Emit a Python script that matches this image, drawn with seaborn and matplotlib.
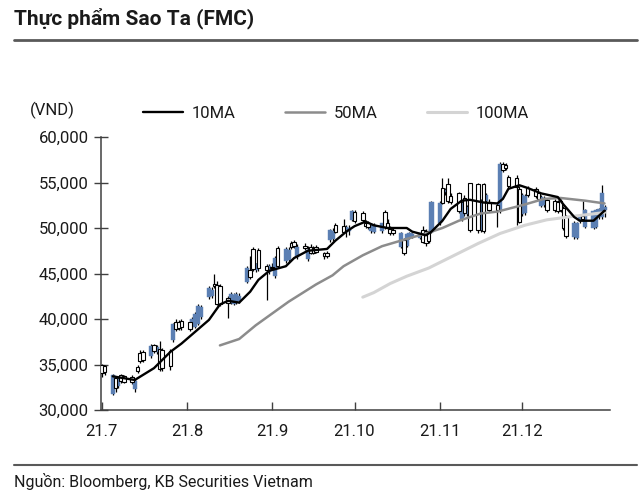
import numpy as np
import pandas as pd
import matplotlib
matplotlib.use("Agg")
import matplotlib.pyplot as plt
import matplotlib.dates as mdates
from matplotlib.lines import Line2D
from matplotlib.ticker import FuncFormatter
import seaborn as sns

# ---------------- data (prices in thousand VND) ----------------
trade_dates = pd.bdate_range("2021-07-01", "2021-12-31")

opens = [
    # Jul
    34.9, 34.8, 31.8, 33.5, 32.6, 33.8, 33.7, 33.6, 32.3, 34.7, 36.3, 36.4, 35.9, 37.1, 36.4, 36.7, 36.6, 36.5, 37.7, 39.7, 39.7, 39.8,
    # Aug
    39.7, 39.2, 39.1, 39.5, 40.2, 42.4, 42.5, 43.8, 43.7, 43.6, 42.3, 41.8, 41.7, 41.9, 42.0, 44.1, 45.4, 47.7, 45.4, 47.6, 45.8, 45.2,
    # Sep
    45.7, 44.7, 47.8, 46.4, 46.5, 48.4, 48.5, 46.8, 48.0, 46.6, 47.9, 47.8, 47.9, 47.2, 47.2, 48.7, 48.8, 50.3, 50.2, 49.6, 49.7, 50.9,
    # Oct
    51.8, 51.7, 50.6, 50.5, 49.7, 49.6, 49.7, 51.8, 50.6, 49.9, 49.8, 47.9, 48.7, 48.0, 48.9, 49.0, 48.9, 49.8, 49.7, 49.6, 49.6,
    # Nov
    50.5, 54.4, 54.0, 54.8, 53.5, 53.8, 51.0, 53.3, 51.5, 54.9, 54.8, 49.8, 54.8, 53.0, 52.8, 52.5, 51.9, 57.0, 56.9, 55.6, 55.5, 54.3,
    # Dec
    51.5, 51.6, 54.4, 54.3, 53.8, 52.4, 52.5, 53.1, 53.0, 52.9, 53.0, 52.2, 51.2, 49.0, 48.9, 50.8, 51.3, 50.1, 50.0, 50.1, 51.2, 51.2, 52.0,
]
highs = [
    35.1, 35.0, 34.0, 33.7, 33.6, 34.0, 33.9, 33.8, 33.4, 34.9, 36.6, 36.6, 37.2, 37.3, 37.1, 37.6, 36.8, 36.7, 39.6, 40.0, 39.9, 40.0,
    40.0, 40.2, 40.8, 41.6, 41.5, 43.6, 43.5, 44.9, 44.2, 43.8, 42.5, 43.0, 42.9, 43.0, 42.9, 45.8, 46.9, 47.9, 46.1, 47.8, 46.0, 46.0,
    46.2, 46.9, 48.0, 47.9, 47.9, 48.6, 48.7, 48.2, 48.4, 48.0, 48.2, 48.0, 48.1, 47.4, 47.5, 49.9, 50.0, 50.5, 51.0, 50.3, 50.3, 52.0,
    52.0, 51.9, 50.9, 50.8, 50.6, 50.5, 50.6, 52.0, 51.0, 50.2, 50.0, 49.6, 48.9, 49.5, 49.6, 49.5, 49.5, 50.2, 49.9, 49.9, 53.0,
    53.0, 55.5, 54.4, 55.5, 53.8, 54.0, 53.0, 53.6, 52.5, 55.0, 55.0, 53.2, 55.0, 53.8, 53.2, 52.8, 57.2, 57.2, 57.1, 55.8, 55.8, 54.6,
    53.8, 53.7, 54.6, 54.5, 54.0, 53.6, 53.5, 53.3, 53.2, 53.1, 53.2, 52.4, 51.4, 50.8, 50.7, 51.5, 53.0, 52.1, 52.0, 52.1, 52.2, 54.7, 52.5,
]
lows = [
    33.6, 33.8, 31.6, 32.0, 32.4, 33.0, 33.0, 32.9, 32.0, 34.1, 35.2, 35.3, 35.7, 36.3, 36.2, 34.3, 34.3, 34.4, 37.5, 38.7, 38.8, 38.8,
    38.7, 39.0, 39.0, 39.3, 40.0, 42.2, 42.3, 43.4, 41.5, 41.4, 40.1, 41.6, 41.5, 41.7, 41.8, 44.0, 44.4, 45.3, 45.2, 45.3, 42.1, 45.0,
    45.4, 44.5, 45.6, 46.2, 46.3, 47.7, 47.8, 46.6, 47.6, 46.4, 47.1, 47.1, 47.2, 46.6, 46.7, 48.5, 48.6, 49.4, 49.4, 49.0, 49.2, 50.8,
    50.6, 50.7, 50.0, 49.9, 49.5, 49.4, 49.5, 49.9, 49.9, 49.2, 49.2, 47.8, 47.0, 47.9, 48.8, 48.9, 48.8, 48.3, 48.0, 48.3, 49.4,
    50.3, 52.6, 53.6, 52.8, 52.6, 51.7, 50.8, 51.3, 51.3, 49.6, 49.5, 49.6, 49.5, 52.9, 51.8, 50.1, 51.7, 56.2, 56.4, 54.4, 50.3, 50.5,
    51.3, 51.4, 53.4, 53.3, 53.0, 52.3, 52.3, 51.8, 51.8, 51.7, 51.8, 49.8, 48.9, 48.8, 48.8, 50.6, 50.8, 50.0, 49.9, 50.0, 51.0, 51.0, 51.2,
]
closes = [
    34.1, 34.2, 33.8, 32.4, 33.4, 33.2, 33.1, 33.1, 33.2, 34.3, 35.4, 35.5, 37.0, 36.5, 36.9, 34.5, 34.6, 34.8, 39.4, 38.9, 39.0, 39.1,
    38.9, 40.0, 40.6, 41.4, 41.3, 43.4, 43.2, 43.6, 41.7, 41.6, 41.8, 42.8, 42.6, 42.7, 42.5, 45.6, 44.6, 45.5, 46.0, 45.6, 45.4, 45.8,
    45.6, 46.7, 45.8, 47.7, 47.6, 47.9, 48.0, 47.9, 47.8, 47.6, 47.3, 47.3, 47.4, 46.9, 46.9, 49.8, 49.7, 49.6, 49.6, 50.1, 50.0, 51.9,
    50.8, 50.9, 50.2, 50.1, 50.4, 50.3, 50.5, 50.1, 50.0, 49.4, 49.4, 49.4, 47.3, 49.3, 49.4, 49.3, 49.4, 48.5, 48.4, 48.6, 52.9,
    52.8, 52.8, 54.2, 53.0, 52.9, 51.9, 52.8, 51.6, 52.3, 49.8, 49.8, 53.0, 49.7, 53.6, 52.0, 52.0, 57.0, 56.4, 56.6, 54.6, 54.5, 50.7,
    53.6, 53.5, 53.6, 53.5, 53.2, 53.4, 53.3, 52.0, 52.0, 51.9, 52.0, 50.0, 49.1, 50.6, 50.5, 51.2, 51.0, 52.0, 51.9, 52.0, 52.1, 53.8, 52.3,
]

ma10_dates = ["2021-07-05", "2021-07-13", "2021-07-20", "2021-07-26", "2021-07-30", "2021-08-04", "2021-08-09",
              "2021-08-13", "2021-08-16", "2021-08-20", "2021-08-24", "2021-08-27", "2021-08-31", "2021-09-06",
              "2021-09-09", "2021-09-14", "2021-09-21", "2021-09-24", "2021-09-28", "2021-10-01", "2021-10-05",
              "2021-10-08", "2021-10-13", "2021-10-20", "2021-10-22", "2021-10-27", "2021-10-29", "2021-11-02",
              "2021-11-05", "2021-11-09", "2021-11-12", "2021-11-17", "2021-11-22", "2021-11-24", "2021-11-26",
              "2021-11-30", "2021-12-03", "2021-12-08", "2021-12-14", "2021-12-16", "2021-12-20", "2021-12-22",
              "2021-12-27", "2021-12-31"]
ma10_vals = [33.7, 33.3, 34.6, 36.4, 37.3, 38.6, 39.9, 41.6, 42.0, 41.8, 43.0, 44.3, 45.3, 45.8, 46.7, 47.5, 47.7,
             48.6, 49.6, 50.2, 50.7, 50.3, 50.0, 50.0, 49.6, 49.2, 49.6, 50.8, 52.1, 53.0, 53.1, 52.8, 52.7, 53.2,
             54.3, 54.7, 54.4, 53.8, 53.4, 52.6, 51.2, 50.8, 50.8, 51.9]

ma50_dates = ["2021-08-13", "2021-08-20", "2021-08-26", "2021-09-01", "2021-09-07", "2021-09-17", "2021-09-23",
              "2021-09-27", "2021-10-04", "2021-10-11", "2021-10-20", "2021-10-27", "2021-11-02", "2021-11-08",
              "2021-11-16", "2021-11-22", "2021-12-01", "2021-12-09", "2021-12-15", "2021-12-24", "2021-12-31"]
ma50_vals = [37.1, 37.8, 39.3, 40.6, 41.9, 43.8, 44.8, 45.8, 47.0, 48.0, 48.8, 49.4, 50.0, 50.8, 51.6, 51.8, 52.5,
             53.2, 53.3, 53.0, 52.7]

ma100_dates = ["2021-10-04", "2021-10-08", "2021-10-14", "2021-10-20", "2021-10-28", "2021-11-05", "2021-11-15",
               "2021-11-23", "2021-12-02", "2021-12-10", "2021-12-20", "2021-12-31"]
ma100_vals = [42.4, 42.9, 43.9, 44.7, 45.6, 46.8, 48.3, 49.4, 50.3, 50.9, 51.3, 51.7]

month_starts = ["2021-07-01", "2021-08-01", "2021-09-01", "2021-10-01", "2021-11-01", "2021-12-01"]
month_labels = ["21.7", "21.8", "21.9", "21.10", "21.11", "21.12"]
y_ticks = [30000, 35000, 40000, 45000, 50000, 55000, 60000]

# ---------------- styling ----------------
sns.set_theme(style="white")
plt.rcParams['font.family'] = ['Roboto', 'DejaVu Sans']
TXT = '#1a1a1a'
BLUE = '#5b7fb3'
AXC = '#404040'

fig = plt.figure(figsize=(6.4, 5.0), dpi=100)
ax = fig.add_axes([101 / 640, 90 / 500, 509 / 640, 273 / 500])

x = mdates.date2num(trade_dates.to_pydatetime())
o = np.array(opens) * 1000
h = np.array(highs) * 1000
l = np.array(lows) * 1000
c = np.array(closes) * 1000
up = c >= o
bottom = np.minimum(o, c)
height = np.maximum(np.abs(c - o), 80)

ax.vlines(x, l, h, color='black', lw=0.9, zorder=2)
ax.bar(x[up], height[up], bottom=bottom[up], width=1.5, color=BLUE, edgecolor=BLUE, lw=0.3, zorder=3)
ax.bar(x[~up], height[~up], bottom=bottom[~up], width=1.3, color='white', edgecolor='black', lw=0.8, zorder=3)

def dnum(ds):
    return mdates.date2num(pd.to_datetime(ds).to_pydatetime())

sns.lineplot(x=dnum(ma10_dates), y=np.array(ma10_vals) * 1000, ax=ax, color='black', lw=1.7, label='10MA', zorder=6)
sns.lineplot(x=dnum(ma50_dates), y=np.array(ma50_vals) * 1000, ax=ax, color='#8c8c8c', lw=1.8, label='50MA', zorder=5)
sns.lineplot(x=dnum(ma100_dates), y=np.array(ma100_vals) * 1000, ax=ax, color='#d4d4d4', lw=2.2, label='100MA', zorder=4)

handles, labels = ax.get_legend_handles_labels()
if ax.get_legend() is not None:
    ax.get_legend().remove()
fig.legend(handles, labels, ncol=3, loc='center', bbox_to_anchor=(336 / 640, 1 - 113 / 500),
           frameon=False, handlelength=2.4, columnspacing=3.0, handletextpad=0.5,
           prop={'size': 12}, labelcolor=TXT)

ax.set_ylim(30000, 60000)
ax.set_yticks(y_ticks)
ax.yaxis.set_major_formatter(FuncFormatter(lambda v, p: f"{v:,.0f}"))
ax.set_xlim(dnum(["2021-07-01"])[0] - 0.3, dnum(["2022-01-02"])[0])
ax.set_xticks(dnum(month_starts))
ax.set_xticklabels(month_labels)
ax.set_xlabel("")
ax.set_ylabel("")

ax.tick_params(axis='y', direction='inout', length=10, width=1, color=AXC, labelsize=12, labelcolor=TXT, pad=4, left=True)
ax.tick_params(axis='x', direction='in', length=6, width=1, color=AXC, labelsize=12, labelcolor=TXT, pad=10, bottom=True)
for s in ['top', 'right']:
    ax.spines[s].set_visible(False)
for s in ['left', 'bottom']:
    ax.spines[s].set_color(AXC)
    ax.spines[s].set_linewidth(1.1)
ax.grid(False)

fig.text(14 / 640, 1 - 18 / 500, "Thực phẩm Sao Ta (FMC)", fontsize=15, fontweight='bold', color=TXT, va='center', ha='left')
fig.text(30 / 640, 1 - 110 / 500, "(VND)", fontsize=12, color=TXT, va='center', ha='left')
fig.add_artist(Line2D([14 / 640, 637 / 640], [1 - 40 / 500] * 2, transform=fig.transFigure, color='#595959', lw=2))
fig.add_artist(Line2D([14 / 640, 637 / 640], [1 - 465 / 500] * 2, transform=fig.transFigure, color='#595959', lw=1.5))
fig.text(14 / 640, 1 - 482 / 500, "Nguồn: Bloomberg, KB Securities Vietnam", fontsize=11.5, color=TXT, va='center', ha='left')

fig.savefig("out.png", dpi=100)
